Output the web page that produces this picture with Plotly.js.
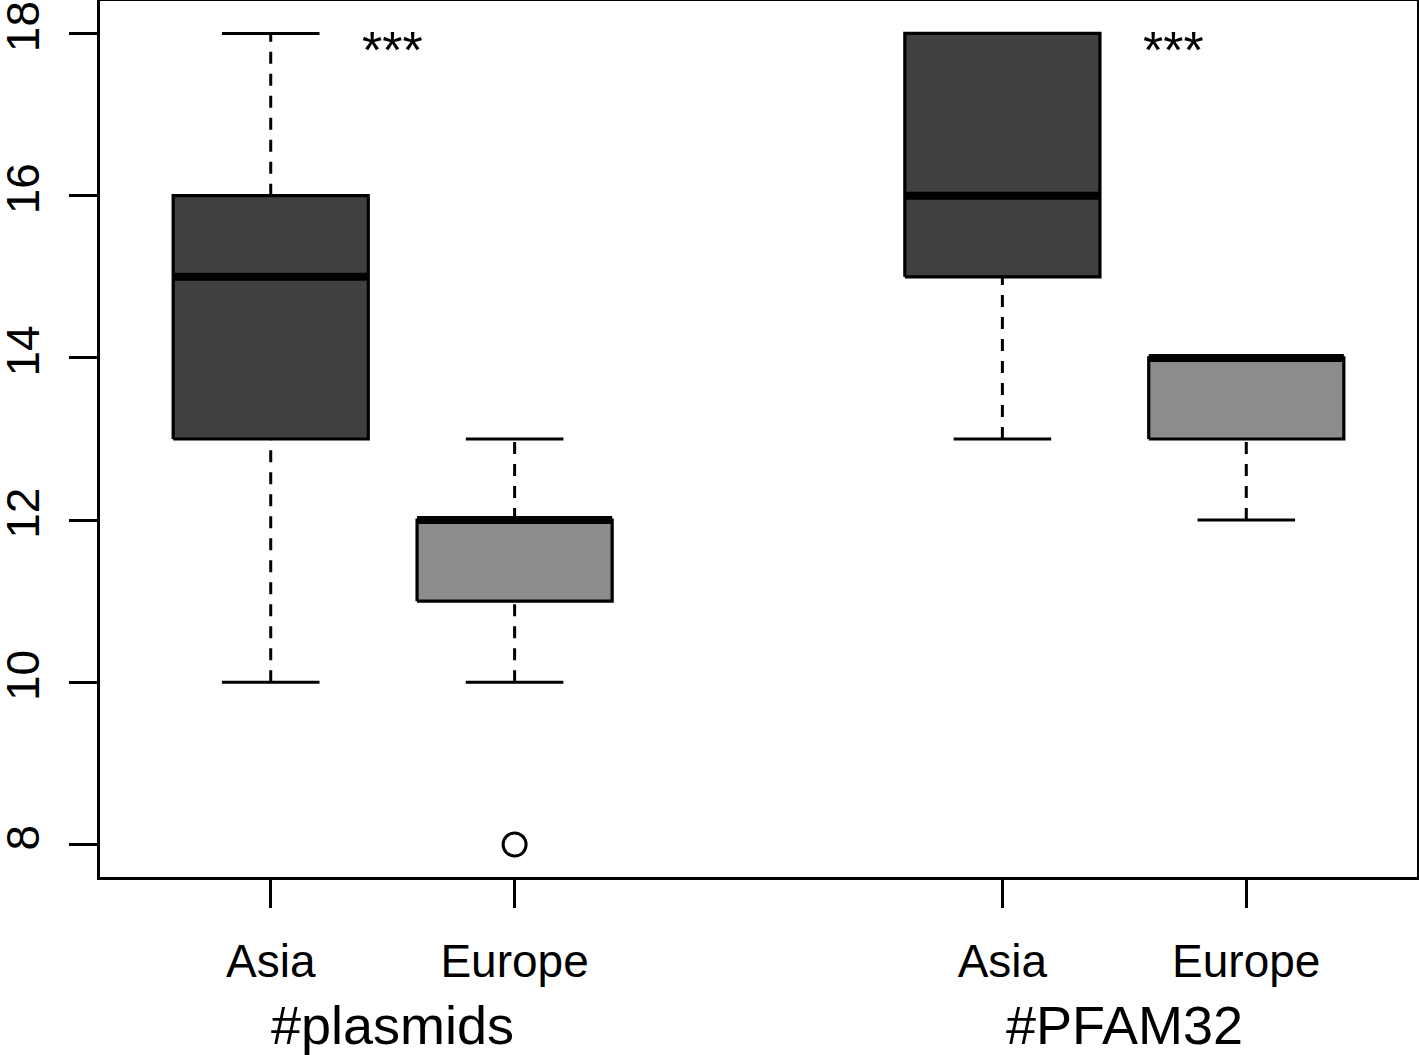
<!DOCTYPE html>
<html>
<head>
<meta charset="utf-8">
<script src="https://cdn.plot.ly/plotly-3.0.1.min.js"></script>
<style>html,body{margin:0;padding:0;background:#fff}</style>
</head>
<body>
<div id="chart" style="width:1419px;height:1055px"></div>
<script>
// ---- data ----
var positions = [1, 2, 4, 5];
var tickLabels = ['Asia', 'Europe', 'Asia', 'Europe'];
var lowerWhisker = [10, 10, 13, 12];
var q1 = [13, 11, 15, 13];
var medians = [15, 12, 16, 14];
var q3 = [16, 12, 18, 14];
var upperWhisker = [18, 13, 18, 14];
var boxColors = ['#404040', '#8c8c8c', '#404040', '#8c8c8c'];
var outlierX = [2];
var outlierY = [8];
var groupLabels = ['#plasmids', '#PFAM32'];
var groupCenters = [1.5, 4.5];
var signifLabels = ['***', '***'];
var signifX = [1.5, 4.7];
var signifY = [18, 18];

var BOXW = 0.4;   // half width of box
var CAPW = 0.2;   // half width of staple

var traces = [];
// dashed whiskers
var wx = [], wy = [];
positions.forEach(function (p, i) {
  wx.push(p, p, null, p, p, null);
  wy.push(lowerWhisker[i], q1[i], null, q3[i], upperWhisker[i], null);
});
traces.push({x: wx, y: wy, type: 'scatter', mode: 'lines', hoverinfo: 'skip',
  line: {color: 'black', width: 3, dash: '12px,10px'}, showlegend: false});
// caps
var cx = [], cy = [];
positions.forEach(function (p, i) {
  cx.push(p - CAPW, p + CAPW, null, p - CAPW, p + CAPW, null);
  cy.push(lowerWhisker[i], lowerWhisker[i], null, upperWhisker[i], upperWhisker[i], null);
});
traces.push({x: cx, y: cy, type: 'scatter', mode: 'lines', hoverinfo: 'skip',
  line: {color: 'black', width: 3}, showlegend: false});
// boxes
positions.forEach(function (p, i) {
  traces.push({
    x: [p - BOXW, p + BOXW, p + BOXW, p - BOXW, p - BOXW],
    y: [q1[i], q1[i], q3[i], q3[i], q1[i]],
    type: 'scatter', mode: 'lines', fill: 'toself', fillcolor: boxColors[i],
    line: {color: 'black', width: 3.2}, hoverinfo: 'skip', showlegend: false
  });
});
// medians
var mx = [], my = [];
positions.forEach(function (p, i) {
  mx.push(p - BOXW, p + BOXW, null);
  my.push(medians[i], medians[i], null);
});
traces.push({x: mx, y: my, type: 'scatter', mode: 'lines', hoverinfo: 'skip',
  line: {color: 'black', width: 8}, showlegend: false});
// outliers
traces.push({x: outlierX, y: outlierY, type: 'scatter', mode: 'markers',
  marker: {symbol: 'circle-open', size: 23, color: 'black', line: {width: 3, color: 'black'}},
  showlegend: false});

var FONT = 'Liberation Sans, Arial, Helvetica, sans-serif';
var annotations = [];
groupLabels.forEach(function (g, i) {
  annotations.push({x: groupCenters[i], xref: 'x', y: 0, yref: 'paper', text: g,
    showarrow: false, yanchor: 'middle', yshift: -148,
    font: {family: FONT, size: 54, color: 'black'}});
});
signifLabels.forEach(function (s, i) {
  annotations.push({x: signifX[i], xref: 'x', y: signifY[i], yref: 'y', text: s,
    showarrow: false, yanchor: 'middle', yshift: -17,
    font: {family: FONT, size: 52, color: 'black'}});
});

var layout = {
  width: 1419, height: 1055,
  margin: {l: 100, r: 2, t: 1, b: 178},
  paper_bgcolor: 'white', plot_bgcolor: 'white',
  showlegend: false,
  xaxis: {range: [0.3, 5.7], tickvals: positions, ticktext: tickLabels,
    ticks: 'outside', ticklen: 28, tickwidth: 3, tickcolor: 'black',
    showline: true, linewidth: 3, linecolor: 'black', mirror: true,
    showgrid: false, zeroline: false, ticklabelstandoff: 14,
    tickfont: {family: FONT, size: 46, color: 'black'}},
  yaxis: {range: [7.6, 18.4], tickvals: [8, 10, 12, 14, 16, 18],
    ticks: 'outside', ticklen: 28, tickwidth: 3, tickcolor: 'black',
    showline: true, linewidth: 3, linecolor: 'black', mirror: true,
    showgrid: false, zeroline: false, tickangle: -90, ticklabelstandoff: 12,
    tickfont: {family: FONT, size: 46, color: 'black'}},
  annotations: annotations
};

Plotly.newPlot('chart', traces, layout, {staticPlot: true, displayModeBar: false});
</script>
</body>
</html>
